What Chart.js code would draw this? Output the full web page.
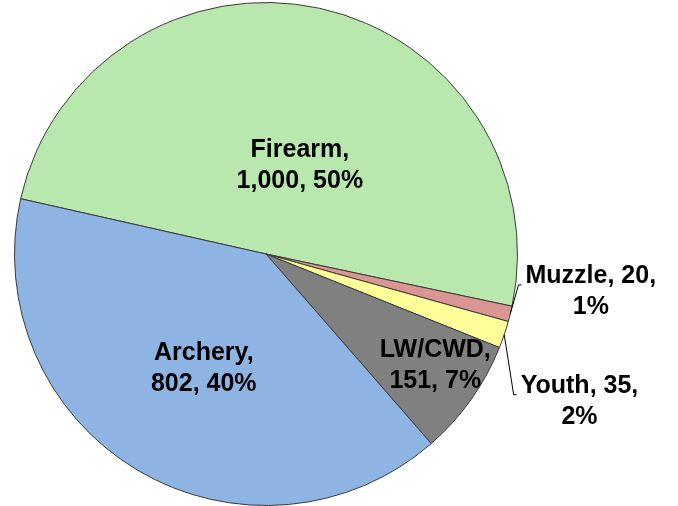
<!DOCTYPE html>
<html>
<head>
<meta charset="utf-8">
<script src="https://cdn.jsdelivr.net/npm/chart.js@4/dist/chart.umd.min.js"></script>
<style>
  body { margin: 0; background: #fff; }
  canvas { display: block; }
</style>
</head>
<body>
<canvas id="pie" width="678" height="506"></canvas>
<script>
let categories = ["Firearm", "Muzzle", "Youth", "LW/CWD", "Archery"];
let values = [1000, 20, 35, 151, 802];
let percents = ["50%", "1%", "2%", "7%", "40%"];
let colours = ["#B9E8AF", "#D99694", "#FFFF99", "#808080", "#8DB4E2"];

// where each label sits: fraction of radius from centre, angle nudge in degrees
let labelPlace = [
  { r: 0.375, da: 8.7 },
  { r: 1.30, da: -7.2, leader: true },
  { r: 1.377, da: 6.45, leader: true },
  { r: 0.806, da: -2 },
  { r: 0.52, da: -2.4 }
];

function fmt(n) {
  return n.toLocaleString('en-US');
}

let pieLabels = {
  id: 'pieLabels',
  afterDatasetsDraw(chart) {
    let ctx = chart.ctx;
    let arcs = chart.getDatasetMeta(0).data;
    ctx.save();
    ctx.font = 'bold 25px "Liberation Sans", Arial, sans-serif';
    ctx.fillStyle = '#000';
    ctx.textAlign = 'center';
    ctx.textBaseline = 'middle';
    arcs.forEach((arc, i) => {
      let p = labelPlace[i];
      let mid = (arc.startAngle + arc.endAngle) / 2;
      let a = mid + p.da * Math.PI / 180;
      let cx = arc.x + Math.cos(a) * arc.outerRadius * p.r;
      let cy = arc.y + Math.sin(a) * arc.outerRadius * p.r;
      let lines = p.leader
        ? [categories[i] + ', ' + fmt(values[i]) + ',', percents[i]]
        : [categories[i] + ',', fmt(values[i]) + ', ' + percents[i]];
      let lh = 31;
      let y1 = cy - lh / 2;
      ctx.fillText(lines[0], cx, y1);
      ctx.fillText(lines[1], cx, y1 + lh);
      if (p.leader) {
        let w = ctx.measureText(lines[0]).width;
        let ex = cx - w / 2 - 4;
        let ey = y1 + 9;
        let sx = arc.x + Math.cos(mid) * arc.outerRadius;
        let sy = arc.y + Math.sin(mid) * arc.outerRadius;
        ctx.beginPath();
        ctx.strokeStyle = '#000';
        ctx.lineWidth = 1;
        ctx.moveTo(sx, sy);
        ctx.lineTo(ex - 3, ey);
        ctx.lineTo(ex, ey);
        ctx.stroke();
      }
    });
    ctx.restore();
  }
};

new Chart(document.getElementById('pie').getContext('2d'), {
  type: 'pie',
  data: {
    labels: categories,
    datasets: [{
      data: values,
      backgroundColor: colours,
      borderColor: '#3a3a3a',
      borderWidth: 1
    }]
  },
  options: {
    responsive: false,
    animation: false,
    rotation: 282.7,
    layout: { padding: { left: 14, right: 160, top: 2, bottom: 0 } },
    plugins: {
      legend: { display: false },
      tooltip: { enabled: false }
    }
  },
  plugins: [pieLabels]
});
</script>
</body>
</html>
